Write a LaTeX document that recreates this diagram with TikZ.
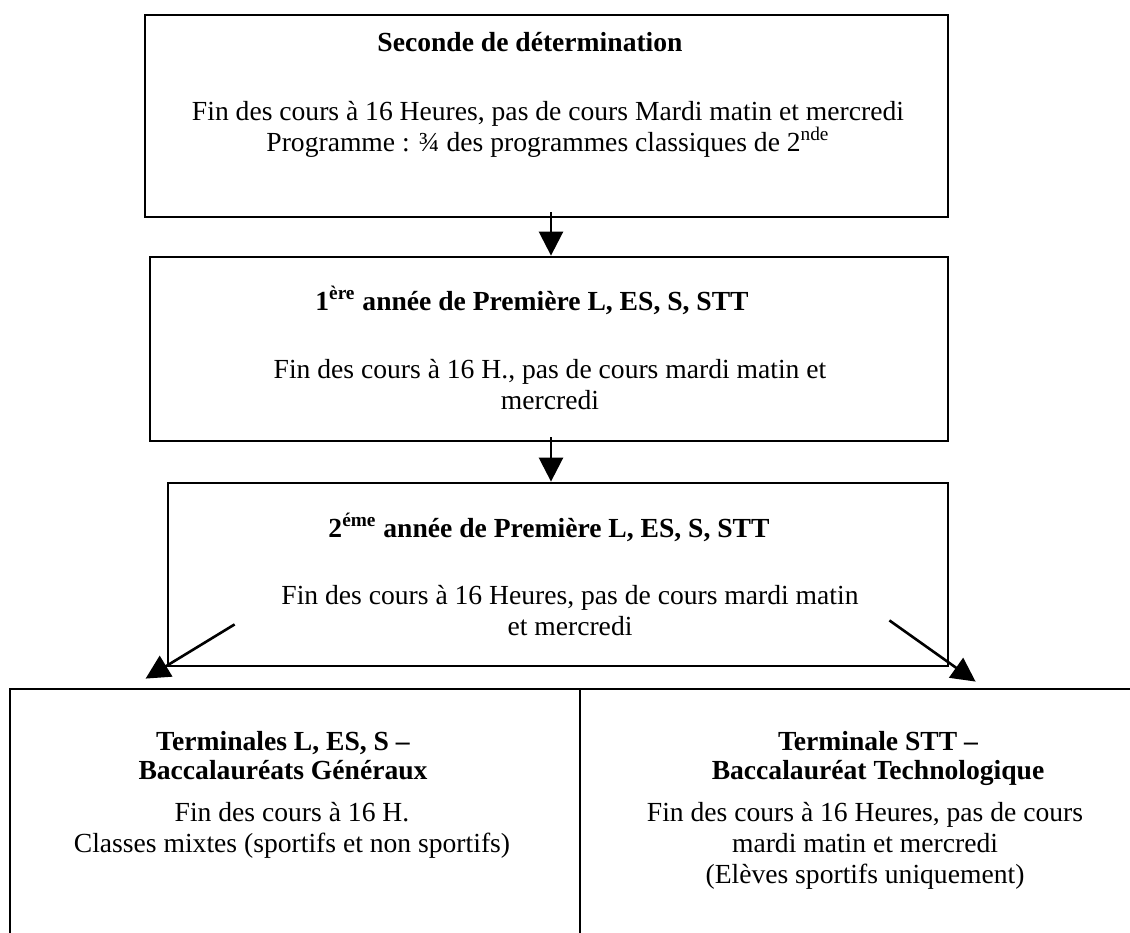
\documentclass[tikz,border=0pt]{standalone}
\usepackage{fontspec}
\setmainfont{Liberation Serif}
\usetikzlibrary{arrows.meta, positioning, calc}

\begin{document}
\begin{tikzpicture}[
        x=0.5pt, y=-0.5pt,
        year/.style={rectangle, draw=black, line width=1.4pt, inner sep=0pt},
        head/.style={anchor=base, align=center, font=\fontsize{13.8pt}{14.5pt}\selectfont\bfseries},
        info/.style={anchor=base, align=center, font=\fontsize{13.8pt}{15.5pt}\selectfont},
        flow/.style={-{Triangle[length=12pt, width=12pt]}, line width=1.3pt, draw=black}
    ]
        \useasboundingbox (0,0) rectangle (1130,932);
        \clip (0,0) rectangle (1130,932);
        \node[year, minimum width=401.5pt, minimum height=101pt] (seconde) at (546.5,116) {};
        \node[year, minimum width=399pt, minimum height=92pt] (premA) at (549,349) {};
        \node[year, minimum width=390pt, minimum height=91.5pt] (premB) at (558,574.5) {};
        \node[year, minimum width=285pt, minimum height=135.5pt] (termG) at (295,824.5) {};
        \node[year, minimum width=285pt, minimum height=135.5pt] (termT) at (865,824.5) {};
        \node[head] (secondeT) at (530,51) {Seconde de détermination};
        \node[info] (secondeI) at (548,151) {Fin des cours à 16 Heures, pas de cours Mardi matin et mercredi\\Programme : ¾ des programmes classiques de 2\textsuperscript{nde}};
        \node[head] (premAT) at (532,310) {1\textsuperscript{ère} année de Première L, ES, S, STT};
        \node[info] (premAI) at (550,409) {Fin des cours à 16 H., pas de cours mardi matin et\\mercredi};
        \node[head] (premBT) at (549,537) {2\textsuperscript{éme} année de Première L, ES, S, STT};
        \node[info] (premBI) at (570,635) {Fin des cours à 16 Heures, pas de cours mardi matin\\et mercredi};
        \node[head] (termGT) at (283,779) {Terminales L, ES, S –\\Baccalauréats Généraux};
        \node[info] (termGI) at (292,852) {Fin des cours à 16 H.\\Classes mixtes (sportifs et non sportifs)};
        \node[head] (termTT) at (878,779) {Terminale STT –\\Baccalauréat Technologique};
        \node[info] (termTI) at (865,883) {Fin des cours à 16 Heures, pas de cours\\mardi matin et mercredi\\(Elèves sportifs uniquement)};
        \coordinate (a1) at ([xshift=2.25pt, yshift=3pt]seconde.south);
        \coordinate (a2) at ([xshift=1pt, yshift=2.5pt]premA.south);
        \draw[flow] (a1) -- (a1 |- premA.north);
        \draw[flow] (a2) -- (a2 |- premB.north);
        \draw[flow] ([xshift=34pt, yshift=21.5pt]premB.south west) -- ([xshift=68.5pt, yshift=4.5pt]termG.north west);
        \draw[flow] ([xshift=-30pt, yshift=23.5pt]premB.south east) -- ([xshift=198.5pt, yshift=3pt]termT.north west);
    \end{tikzpicture}
\end{document}
